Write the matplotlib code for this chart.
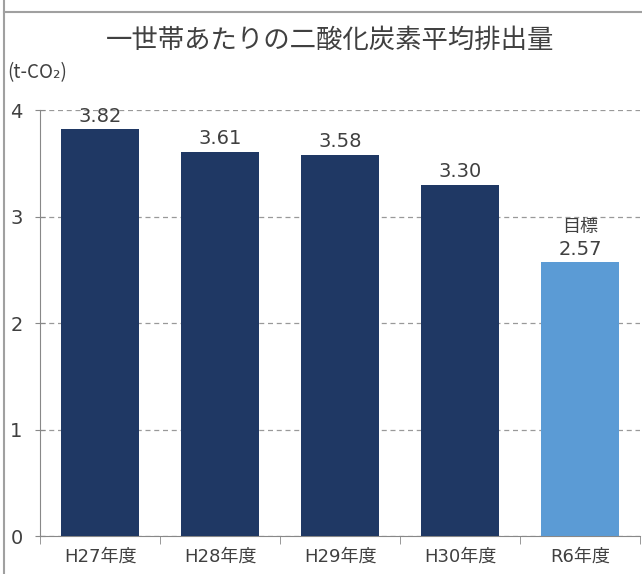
import matplotlib.pyplot as plt
from matplotlib.lines import Line2D

plt.rcParams['font.family'] = ['Noto Sans CJK JP', 'DejaVu Sans']
num_font = ['DejaVu Sans', 'Noto Sans CJK JP']

categories = ['H27年度', 'H28年度', 'H29年度', 'H30年度', 'R6年度']
values = [3.82, 3.61, 3.58, 3.30, 2.57]
labels = ['3.82', '3.61', '3.58', '3.30', '2.57']
colors = ['#1F3864', '#1F3864', '#1F3864', '#1F3864', '#5B9BD5']

fig = plt.figure(figsize=(6.42, 5.74), dpi=100)
ax = fig.add_axes([0.0623, 0.066, 0.935, 0.742])

x = range(len(categories))
ax.bar(x, values, width=0.65, color=colors, zorder=3)

for i, (v, lab) in enumerate(zip(values, labels)):
    ax.text(i, v + 0.035, lab, ha='center', va='bottom', fontsize=14,
            color='#404040', family=num_font, zorder=4)
# target marker above the last bar
ax.text(4, values[4] + 0.25, '目標', ha='center', va='bottom', fontsize=13,
        color='#404040', zorder=4)

ax.set_xlim(-0.5, len(categories) - 0.5)
ax.set_ylim(0, 4)
ax.set_yticks([0, 1, 2, 3, 4])
ax.set_xticks(x)
ax.set_xticklabels(categories, fontsize=13, color='#404040', family=num_font)
for t in ax.get_yticklabels():
    t.set_family(num_font)
ax.tick_params(axis='y', labelsize=14, colors='#888888', labelcolor='#404040',
               direction='inout', length=7, pad=9)
ax.tick_params(axis='x', length=0, pad=8)
# category boundary ticks
ax.set_xticks([i - 0.5 for i in range(len(categories) + 1)], minor=True)
ax.tick_params(axis='x', which='minor', length=6, direction='out', colors='#888888')

ax.grid(axis='y', linestyle=(0, (4, 3)), color='#999999', linewidth=0.9, zorder=0)
for s in ['top', 'right']:
    ax.spines[s].set_visible(False)
for s in ['left', 'bottom']:
    ax.spines[s].set_color('#888888')

fig.text(0.514, 0.93, '一世帯あたりの二酸化炭素平均排出量', ha='center', va='center',
         fontsize=19, color='#404040')
fig.text(0.012, 0.873, '(t-CO₂)', ha='left', va='center', fontsize=13.5,
         color='#404040')

# frame lines from the original page
fig.add_artist(Line2D([0.006, 1.0], [0.979, 0.979], color='#a0a0a0', linewidth=1.5))
fig.add_artist(Line2D([0.006, 0.006], [0.0, 1.0], color='#a0a0a0', linewidth=1.5))

fig.savefig('out.png', dpi=100)
